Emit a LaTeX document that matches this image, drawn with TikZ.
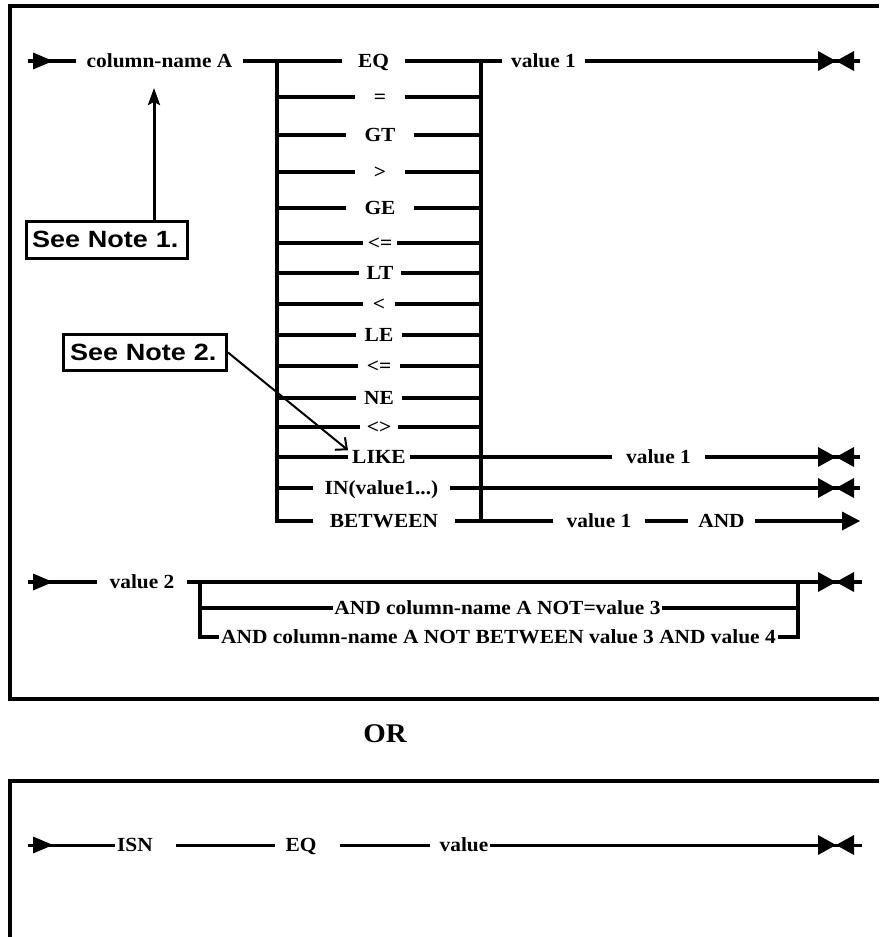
\documentclass[tikz,border=0pt]{standalone}
\usepackage{fontspec}
\setmainfont[FakeStretch=1.07]{Liberation Serif}
\newfontfamily\notefont[FakeStretch=1.15]{Liberation Sans}
\usetikzlibrary{arrows.meta}
\tikzset{
  ln/.style={line width=3.3pt},
  bar/.style={line width=3.3pt, line cap=rect},
  frame/.style={line width=4pt},
  lbl/.style={font=\fontsize{20}{24}\selectfont\bfseries, inner ysep=0pt, inner xsep=#1, text height=13.2pt, text depth=0pt},
  lbl/.default=10pt,
  orlbl/.style={font=\fontsize{27}{30}\selectfont\bfseries, inner sep=0pt},
  note/.style={draw, line width=3pt, font=\notefont\fontsize{23.5}{28}\selectfont\bfseries,
    text width=150pt, align=left, inner xsep=#1, inner ysep=0pt, text height=16.8pt, text depth=0pt,
    minimum height=37pt},
  note/.default=6pt,
}
\newcommand\rrStart[1]{\fill (53,#1) -- (33,{#1-8.5}) -- (33,{#1+8.5}) -- cycle;}
\newcommand\rrTie[1]{\fill (836,#1) -- (818,{#1-10}) -- (818,{#1+10}) -- cycle;
  \fill (836,#1) -- (854,{#1-10}) -- (854,{#1+10}) -- cycle;}
\begin{document}
\begin{tikzpicture}[x=1pt,y=-1pt]
\useasboundingbox (0,0) rectangle (879,937);
% frames
\draw[frame] (879,6) -- (10,6) -- (10,698.5) -- (879,698.5);
\draw[frame] (10,937) -- (10,781) -- (879,781);
\node[orlbl] (or) at (385,734) {OR};

% ---- row 1 ----
\coordinate (s1) at (28,61);
\coordinate (e1) at (860,61);
\node[lbl=10.7pt] (colA) at (159.5,61) {column-name A};
\node[lbl=16pt] (o1) at (373.5,61) {EQ};
\node[lbl=9pt] (v1) at (543.5,61) {value 1};
\draw[ln] (s1) -- (colA.west) (colA.east) -- (o1.west) (o1.east) -- (v1.west) (v1.east) -- (e1);
\rrStart{61}
\rrTie{61}

% bars
\coordinate (bl1) at (277,61);
\coordinate (bl2) at (277,521);
\coordinate (br1) at (481,61);
\coordinate (br2) at (481,521);
\draw[bar] (bl1) -- (bl2) (br1) -- (br2);

% option rows
\node[lbl=19pt] (o2) at (380,97) {=};
\node[lbl=18pt] (o3) at (380,135) {GT};
\node[lbl=19pt] (o4) at (380,172) {>};
\node[lbl=18pt] (o5) at (380,208) {GE};
\node[lbl=5pt] (o6) at (380,243) {<=};
\node[lbl=8pt] (o7) at (380,273) {LT};
\node[lbl=10pt] (o8) at (379,304) {<};
\node[lbl=9pt] (o9) at (379,335) {LE};
\node[lbl=9pt] (o10) at (379,366) {<=};
\node[lbl=8pt] (o11) at (379,398) {NE};
\node[lbl=7pt] (o12) at (379,427) {<>};
\foreach \n in {o2,o3,o4,o5,o6,o7,o8,o9,o10,o11,o12}{
  \draw[ln] (\n.west -| bl1) -- (\n.west) (\n.east) -- (\n.east -| br1);
}

% LIKE row
\node[lbl=4pt] (o13) at (379,457) {LIKE};
\node[lbl=14pt] (v1b) at (658.5,457) {value 1};
\coordinate (e13) at (860,457);
\draw[ln] (o13.west -| bl1) -- (o13.west) (o13.east) -- (v1b.west) (v1b.east) -- (e13);
\rrTie{457}

% IN row
\node[lbl=12pt] (o14) at (381.5,488) {IN(value1...)};
\coordinate (e14) at (860,488);
\draw[ln] (o14.west -| bl1) -- (o14.west) (o14.east) -- (e14);
\rrTie{488}

% BETWEEN row
\node[lbl=17pt] (o15) at (384,521) {BETWEEN};
\node[lbl=13.6pt] (v1c) at (599,521) {value 1};
\node[lbl=10pt] (and) at (721.5,521) {AND};
\coordinate (e15) at (845,521);
\draw[ln] (o15.west -| bl1) -- (o15.west) (o15.east) -- (v1c.west) (v1c.east) -- (and.west) (and.east) -- (e15);
\fill (860,521) -- (842,511.5) -- (842,530.5) -- cycle;

% ---- value 2 row ----
\coordinate (s2) at (28,582);
\coordinate (e2) at (862,582);
\node[lbl=12.6pt] (v2) at (142,582) {value 2};
\draw[ln] (s2) -- (v2.west) (v2.east) -- (e2);
\rrStart{582}
\rrTie{582}
\coordinate (cl1) at (200,582);
\coordinate (cl2) at (200,637);
\coordinate (cr1) at (798,582);
\coordinate (cr2) at (798,637);
\draw[bar] (cl1) -- (cl2) (cr1) -- (cr2);
\node[lbl=1.5pt] (sub1) at (497.5,608) {AND column-name A NOT=value 3};
\node[lbl=1.5pt] (sub2) at (498.5,637) {AND column-name A NOT BETWEEN value 3 AND value 4};
\draw[ln] (sub1.west -| cl1) -- (sub1.west) (sub1.east) -- (sub1.east -| cr1);
\draw[ln] (sub2.west -| cl1) -- (sub2.west) (sub2.east) -- (sub2.east -| cr1);

% ---- bottom box row ----
\coordinate (s3) at (28,845);
\coordinate (e3) at (862,845);
\node[lbl=2pt] (isn) at (135,845) {ISN};
\node[lbl=10pt] (eq2) at (301,845) {EQ};
\node[lbl=1pt] (val) at (464,845) {value};
\draw[ln, line width=3pt] (s3) -- (isn.west);
\draw[ln, line width=3pt, shorten <=21pt] (isn.east) -- (eq2.west);
\draw[ln, line width=3pt, shorten <=13.5pt, shorten >=8.6pt] (eq2.east) -- (val.west);
\draw[ln, line width=3pt] (val.east) -- (e3);
\rrStart{845}
\rrTie{845}

% ---- notes ----
\node[note=5.5pt] (n1) at (107,239.5) {See Note 1.};
\coordinate (a1) at (154,88);
\draw[line width=3pt, -{Stealth[length=17pt,width=12pt,inset=3pt]}] (n1.north -| a1) -- (a1);
\node[note=6.5pt, minimum height=36pt] (n2) at (145,352.5) {See Note 2.};
\draw[line width=2pt, -{Straight Barb[length=9pt,width=16pt]}] (n2.east) -- (o13.north west);
\end{tikzpicture}
\end{document}
